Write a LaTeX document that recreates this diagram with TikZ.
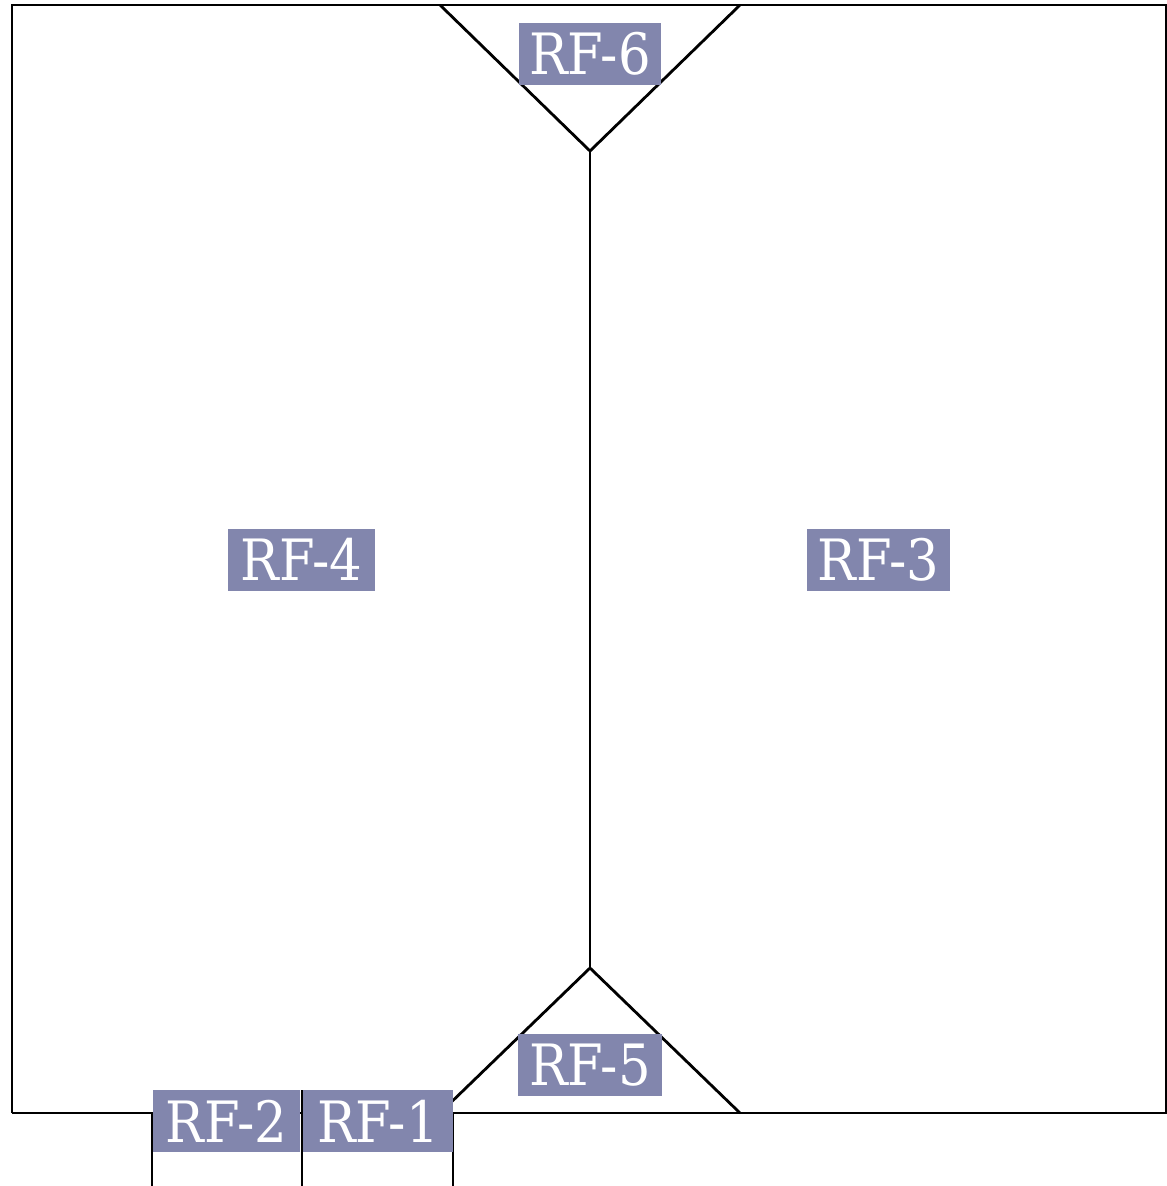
\documentclass[tikz,border=0pt]{standalone}
\usepackage{fontspec}
\setmainfont{DejaVu Serif Condensed}
\definecolor{labelbg}{RGB}{130,134,173}
\begin{document}
\begin{tikzpicture}[x=1pt,y=-1pt,
  wall/.style={draw=black,line width=2.8pt},
  rflabel/.style={fill=labelbg,text=white,font=\fontsize{57}{57}\selectfont,
    minimum height=62pt,minimum width=144pt,inner xsep=4pt,inner ysep=0pt,anchor=center}]
\useasboundingbox (0,0) rectangle (1167,1186);
% coordinates
\coordinate (tl) at (12,5);
\coordinate (tr) at (1166,5);
\coordinate (bl) at (12,1113);
\coordinate (br) at (1166,1113);
\coordinate (t1) at (440,5);
\coordinate (t2) at (740,5);
\coordinate (ta) at (590,151);
\coordinate (ba) at (590,968);
\coordinate (b1) at (440,1113);
\coordinate (b2) at (740,1113);
\coordinate (v1t) at (152,1113);
\coordinate (v1b) at (152,1186);
\coordinate (v2t) at (302,1090);
\coordinate (v2b) at (302,1186);
\coordinate (v3t) at (453,1113);
\coordinate (v3b) at (453,1186);
% walls
\draw[wall] (bl) -- (tl) -- (tr) -- (br) -- (bl);
\draw[wall] (t1) -- (ta) -- (t2);
\draw[wall] (ta) -- (ba);
\draw[wall] (b1) -- (ba) -- (b2);
\draw[wall] (v1t) -- (v1b);
\draw[wall] (v2t) -- (v2b);
\draw[wall] (v3t) -- (v3b);
% labels
\node[rflabel,minimum width=142pt] (rf6) at (590,53.5) {RF-6};
\node[rflabel,minimum width=147pt] (rf4) at (301.5,559.5) {RF-4};
\node[rflabel,minimum width=143pt] (rf3) at (878.5,559.5) {RF-3};
\node[rflabel,minimum width=144pt] (rf5) at (590,1065) {RF-5};
\node[rflabel,minimum width=147pt] (rf2) at (226.5,1121) {RF-2};
\node[rflabel,minimum width=150pt] (rf1) at (378,1121) {RF-1};
\end{tikzpicture}
\end{document}
